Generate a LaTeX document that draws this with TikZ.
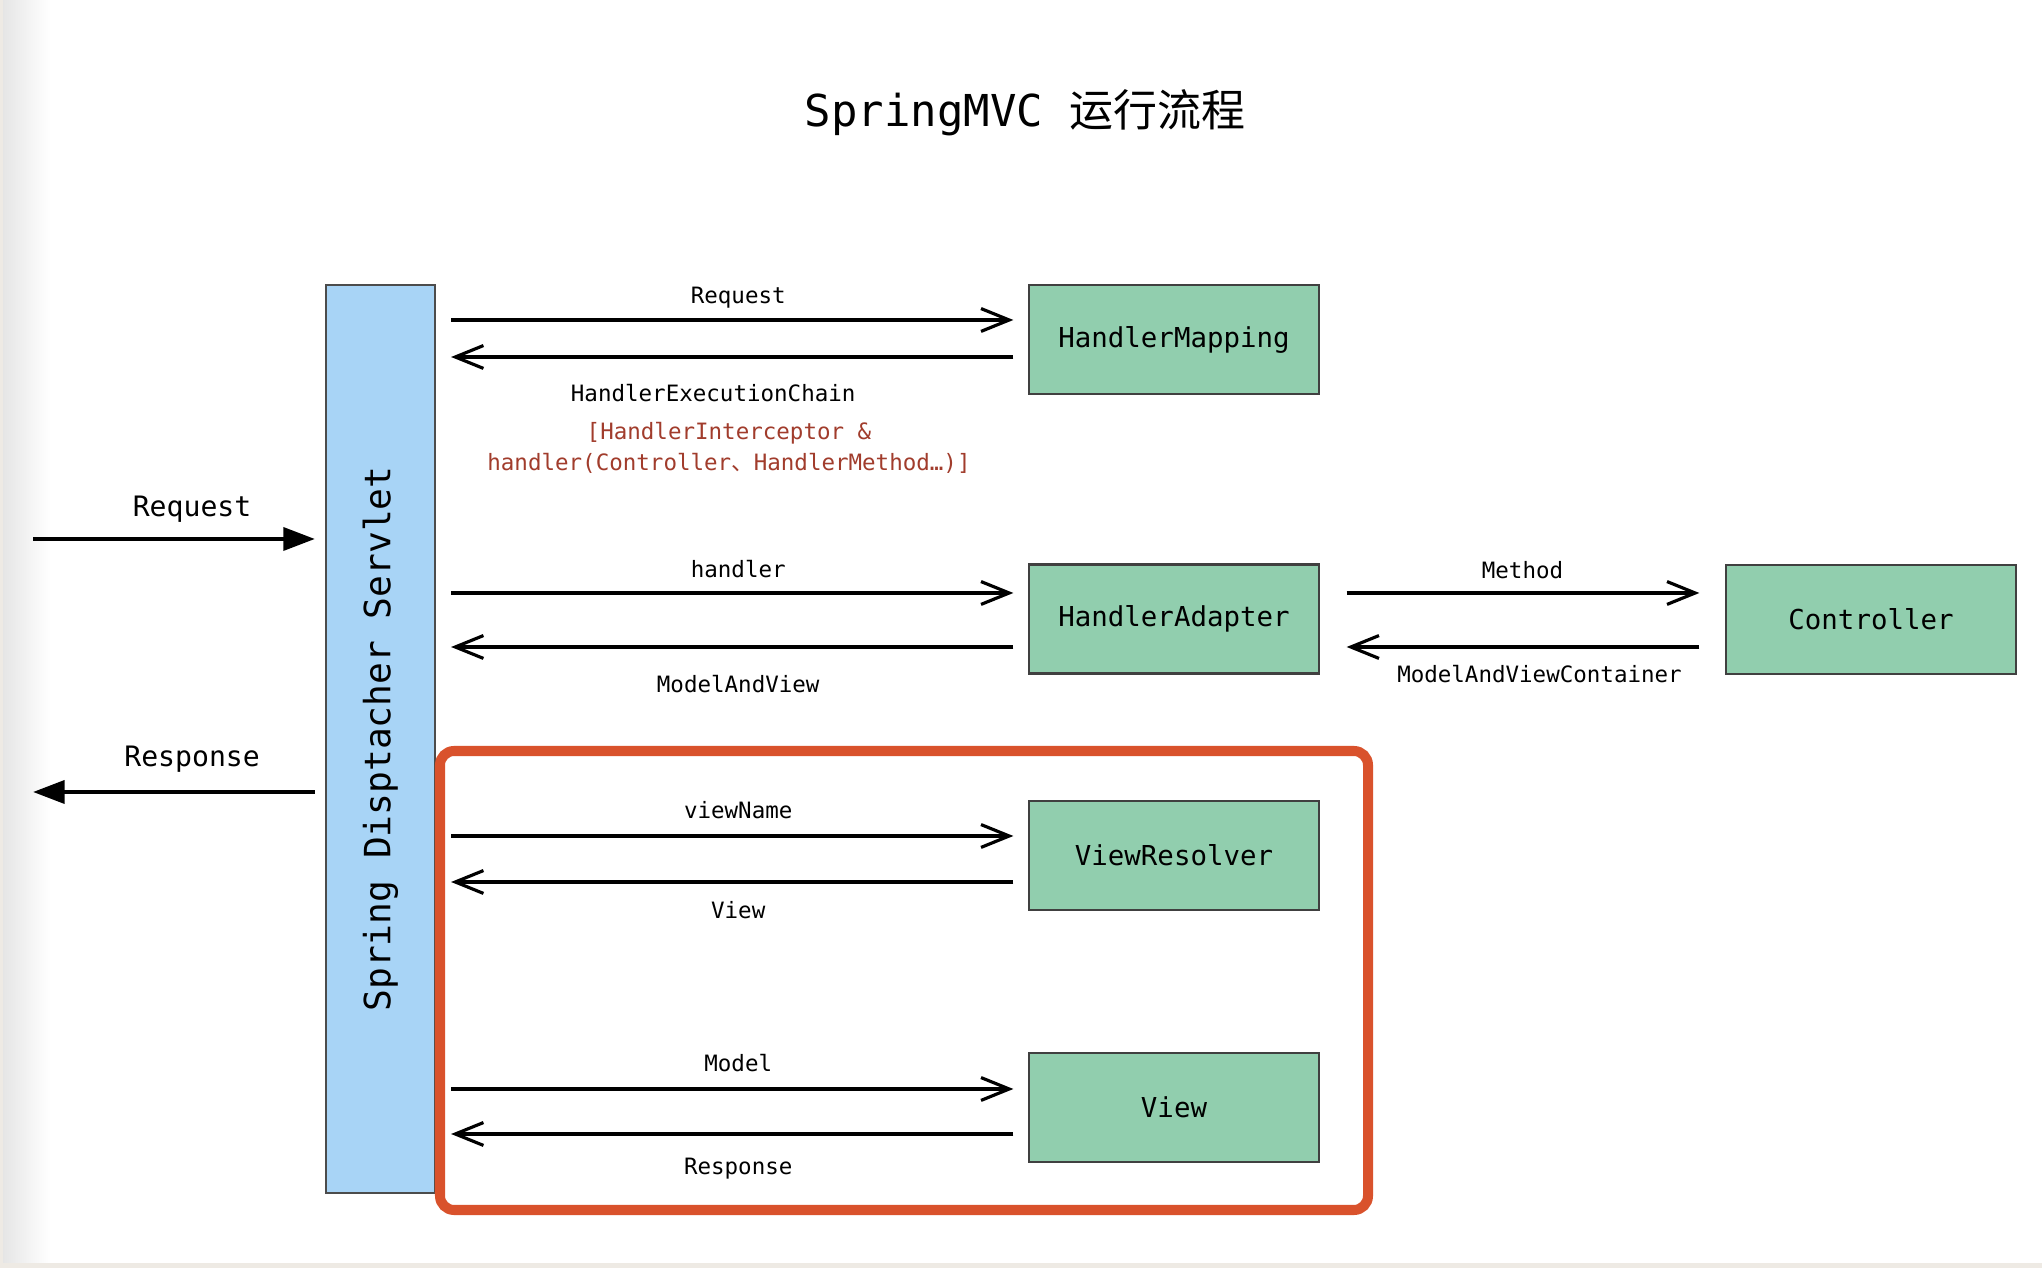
\documentclass[tikz,border=0pt]{standalone}
\usepackage{fontspec}
\setmonofont{DejaVu Sans Mono}
\newfontfamily\cjk{Noto Sans CJK SC}
\usepackage{xcolor}
\usepackage[]{tikz}
\usetikzlibrary{positioning,calc}
\usetikzlibrary{arrows.meta}
\definecolor{barBlue}{HTML}{A8D4F6}
\definecolor{boxGreen}{HTML}{91CEAE}
\definecolor{frameRed}{HTML}{D9522C}
\definecolor{noteRed}{HTML}{A13C2C}
\definecolor{edgeBeige}{HTML}{EEEAE4}
\tikzstyle{nodeGreen} =[rectangle, fill=boxGreen, draw=black!75, line width=0.6pt,
  minimum width=2.89cm, minimum height=1.09cm, inner sep=0pt,
  font=\ttfamily\fontsize{7.8}{9}\selectfont]
\tikzstyle{nodeBar}   =[rectangle, fill=barBlue, draw=black!70, line width=0.6pt,
  minimum width=1.09cm, minimum height=9.08cm, inner sep=0pt]
\tikzstyle{lbl}       =[inner sep=0pt, font=\ttfamily\fontsize{6.4}{8}\selectfont]
\tikzstyle{colLbl}    =[lbl, xshift=0.06cm]
\tikzstyle{sideLbl}   =[inner sep=0pt, font=\ttfamily\fontsize{8}{9}\selectfont]
\tikzstyle{fwd}       =[-{Straight Barb[length=8pt,width=6.5pt]}, line width=0.9pt,
  shorten <=0.15cm, shorten >=0.15cm]
\tikzstyle{bigArrow}  =[-{Triangle[length=9pt,width=6.5pt]}, line width=1.2pt]

\begin{document}
\begin{tikzpicture}[x=0.01cm, y=-0.01cm]
      \useasboundingbox (0,0) rectangle (2042,1268);
      \fill[white] (0,0) rectangle (2042,1268);
      \shade[left color=black!10, right color=white] (3,0) rectangle (50,1263);
      \fill[edgeBeige] (0,0) rectangle (3,1268);
      \fill[edgeBeige] (0,1263) rectangle (2042,1268);

      \node[font=\ttfamily\fontsize{12.5}{14}\selectfont] (title) at (1025,113) {SpringMVC {\cjk 运行流程}};

      \node[nodeBar] (servlet) at (380.5,739) {};
      \node[rotate=90, font=\ttfamily\fontsize{10.3}{12}\selectfont] (servletLbl) at (servlet) {Spring Disptacher Servlet};

      \node[nodeGreen] (mapping)    at (1174,339.5)  {HandlerMapping};
      \node[nodeGreen] (adapter)    at (1174,619)    {HandlerAdapter};
      \node[nodeGreen] (controller) at (1871,619.5)  {Controller};
      \node[nodeGreen] (resolver)   at (1174,855.5)  {ViewResolver};
      \node[nodeGreen] (view)       at (1174,1107.5) {View};

      \draw[frameRed, line width=2.85pt, rounded corners=4pt] (440,751) rectangle (1368,1210);

      \coordinate (reqIn)   at (33,539);
      \coordinate (respOut) at (33,792);
      \draw[bigArrow, shorten >=0.1cm] (reqIn) -- (reqIn -| servlet.west)
        node[pos=0.545, above=4pt, sideLbl] {Request};
      \draw[bigArrow, shorten <=0.1cm] (respOut -| servlet.west) -- (respOut)
        node[pos=0.455, above=5pt, sideLbl] {Response};

      % HandlerMapping
      \draw[fwd] ($(servlet.east |- mapping.west)+(0,-19.5)$) -- ($(mapping.west)+(0,-19.5)$)
        node[midway, above=3pt, colLbl] {Request};
      \draw[fwd] ($(mapping.west)+(0,17.5)$) -- ($(servlet.east |- mapping.west)+(0,17.5)$)
        node[midway, below=7.2pt, lbl, xshift=-0.19cm] (chain) {HandlerExecutionChain};
      \node[lbl, text=noteRed, align=center, font=\ttfamily\fontsize{6.4}{8.6}\selectfont] (chainNote) at (729,448)
        {[HandlerInterceptor \&\\handler(Controller{\cjk 、}HandlerMethod…)]};

      % HandlerAdapter
      \draw[fwd] ($(servlet.east |- adapter.west)+(0,-26)$) -- ($(adapter.west)+(0,-26)$)
        node[midway, above=4pt, colLbl] {handler};
      \draw[fwd] ($(adapter.west)+(0,28)$) -- ($(servlet.east |- adapter.west)+(0,28)$)
        node[midway, below=7.5pt, colLbl] {ModelAndView};
      \draw[fwd, shorten <=0.27cm, shorten >=0.26cm] ($(adapter.east)+(0,-26)$) -- ($(controller.west |- adapter.east)+(0,-26)$)
        node[midway, above=3.6pt, lbl] {Method};
      \draw[fwd, shorten <=0.26cm, shorten >=0.27cm] ($(controller.west |- adapter.east)+(0,28)$) -- ($(adapter.east)+(0,28)$)
        node[midway, below=4.7pt, lbl, xshift=0.17cm] {ModelAndViewContainer};

      % ViewResolver
      \draw[fwd] ($(servlet.east |- resolver.west)+(0,-19.5)$) -- ($(resolver.west)+(0,-19.5)$)
        node[midway, above=4.5pt, colLbl] {viewName};
      \draw[fwd] ($(resolver.west)+(0,26.5)$) -- ($(servlet.east |- resolver.west)+(0,26.5)$)
        node[midway, below=5pt, colLbl] {View};

      % View
      \draw[fwd] ($(servlet.east |- view.west)+(0,-18.5)$) -- ($(view.west)+(0,-18.5)$)
        node[midway, above=4.5pt, colLbl] {Model};
      \draw[fwd] ($(view.west)+(0,26.5)$) -- ($(servlet.east |- view.west)+(0,26.5)$)
        node[midway, below=6.3pt, colLbl] {Response};
    \end{tikzpicture}
\end{document}
